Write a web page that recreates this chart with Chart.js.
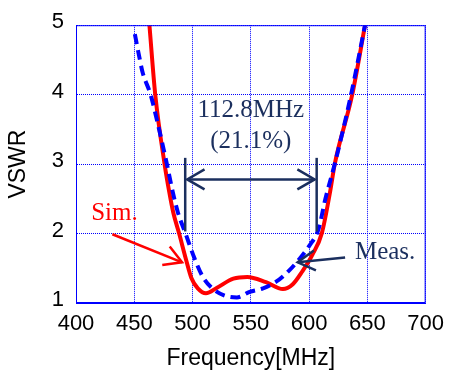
<!DOCTYPE html>
<html>
<head>
<meta charset="utf-8">
<script src="https://cdn.jsdelivr.net/npm/chart.js@4.4.1/dist/chart.umd.min.js"></script>
<style>
  html, body { margin: 0; padding: 0; background: #ffffff; }
  #wrap { width: 452px; height: 374px; }
</style>
</head>
<body>
<div id="wrap"><canvas id="vswr-chart" width="452" height="374"></canvas></div>
<script>
// --- Data ---
const simFreq = [463, 468, 476, 480, 483.5, 488.5, 494.5, 499, 504.5, 511.5, 521, 535, 547, 563, 577.5, 586, 594, 603, 611, 618, 622, 637, 648];
const simVswr = [5.0, 4.0, 3.0, 2.6, 2.3, 2.0, 1.62, 1.36, 1.21, 1.14, 1.22, 1.35, 1.375, 1.30, 1.20, 1.27, 1.45, 1.70, 2.01, 2.6, 3.0, 4.0, 5.0];

const measFreq = [450.5, 454, 457, 464, 469.5, 478, 483, 487.5, 494, 501.5, 509, 517, 527, 538, 549, 560.5, 572, 583, 591.5, 600, 608, 614, 622, 636, 648];
const measVswr = [4.87, 4.57, 4.33, 4.0, 3.63, 3.0, 2.6, 2.3, 2.0, 1.65, 1.37, 1.21, 1.11, 1.08, 1.16, 1.21, 1.31, 1.47, 1.63, 1.82, 2.06, 2.5, 3.0, 4.0, 5.0];

const xTicks = [400, 450, 500, 550, 600, 650, 700];
const yTicks = [1, 2, 3, 4, 5];

// band marker (MHz) and annotation texts
const bandEdges = [493.7, 606.5];
const bandLabel = ['112.8MHz', '(21.1%)'];
const simLabel = 'Sim.';
const measLabel = 'Meas.';

const NAVY = '#1b2f5e';
const GRID_BLUE = '#0000ff';

function toPoints(xs, ys) {
  return xs.map((x, i) => ({ x: x, y: ys[i] }));
}

function arrowHead(ctx, tipX, tipY, fromX, fromY, len) {
  const ang = Math.atan2(tipY - fromY, tipX - fromX);
  const spread = Math.PI / 6;
  ctx.beginPath();
  ctx.moveTo(tipX - len * Math.cos(ang - spread), tipY - len * Math.sin(ang - spread));
  ctx.lineTo(tipX, tipY);
  ctx.lineTo(tipX - len * Math.cos(ang + spread), tipY - len * Math.sin(ang + spread));
  ctx.stroke();
}

function arrow(ctx, x1, y1, x2, y2, len) {
  ctx.beginPath();
  ctx.moveTo(x1, y1);
  ctx.lineTo(x2, y2);
  ctx.stroke();
  arrowHead(ctx, x2, y2, x1, y1, len);
}

// frame + text/arrow annotations
const annotations = {
  id: 'annotations',
  afterDatasetsDraw(chart) {
    const { ctx, chartArea, scales } = chart;
    const xs = scales.x, ys = scales.y;
    const px = v => xs.getPixelForValue(v);
    const py = v => ys.getPixelForValue(v);

    ctx.save();
    ctx.strokeStyle = GRID_BLUE;
    ctx.lineWidth = 1;
    ctx.strokeRect(chartArea.left + 0.5, chartArea.top + 0.5, chartArea.width - 1, chartArea.height - 1);

    // bandwidth bracket
    ctx.strokeStyle = NAVY;
    ctx.lineWidth = 2.5;
    bandEdges.forEach(f => {
      ctx.beginPath();
      ctx.moveTo(px(f), py(3.09));
      ctx.lineTo(px(f), py(2.03));
      ctx.stroke();
    });
    const aY = py(2.78);
    ctx.beginPath();
    ctx.moveTo(px(bandEdges[0]) + 2, aY);
    ctx.lineTo(px(bandEdges[1]) - 2, aY);
    ctx.stroke();
    arrowHead(ctx, px(bandEdges[0]) + 2, aY, px(bandEdges[1]), aY, 20);
    arrowHead(ctx, px(bandEdges[1]) - 2, aY, px(bandEdges[0]), aY, 20);

    ctx.fillStyle = NAVY;
    ctx.font = "25px 'Liberation Serif', 'Times New Roman', serif";
    ctx.textAlign = 'center';
    ctx.textBaseline = 'alphabetic';
    ctx.fillText(bandLabel[0], px(550), py(3.68));
    ctx.fillText(bandLabel[1], px(550), py(3.23));

    // Sim. label + arrow
    ctx.fillStyle = '#ff0000';
    ctx.strokeStyle = '#ff0000';
    ctx.textAlign = 'left';
    ctx.fillText(simLabel, px(413), py(2.19));
    arrow(ctx, px(431.2), py(1.99), px(491), py(1.586), 20);

    // Meas. label + arrow
    ctx.fillStyle = NAVY;
    ctx.strokeStyle = NAVY;
    ctx.fillText(measLabel, px(639.3), py(1.64));
    arrow(ctx, px(630.9), py(1.656), px(590.2), py(1.586), 20);

    ctx.restore();
  }
};

const tickFont = { family: "'Liberation Sans', Arial, sans-serif", size: 22 };
const titleFont = { family: "'Liberation Sans', Arial, sans-serif", size: 23 };

new Chart(document.getElementById('vswr-chart').getContext('2d'), {
  type: 'line',
  data: {
    datasets: [
      {
        label: 'Meas.',
        data: toPoints(measFreq, measVswr),
        borderColor: '#0000ff',
        borderWidth: 4,
        borderDash: [10, 6],
        cubicInterpolationMode: 'monotone',
        pointRadius: 0,
        fill: false,
        order: 0
      },
      {
        label: 'Sim.',
        data: toPoints(simFreq, simVswr),
        borderColor: '#ff0000',
        borderWidth: 4,
        cubicInterpolationMode: 'monotone',
        pointRadius: 0,
        fill: false,
        order: 1
      }
    ]
  },
  options: {
    responsive: false,
    animation: false,
    layout: { padding: { top: 19, right: 20, left: 0, bottom: 0 } },
    plugins: { legend: { display: false }, tooltip: { enabled: false } },
    scales: {
      x: {
        type: 'linear',
        min: 400,
        max: 700,
        afterBuildTicks: scale => { scale.ticks = xTicks.map(v => ({ value: v })); },
        afterFit: scale => { scale.height = 71; },
        grid: { color: GRID_BLUE, lineWidth: 1, drawTicks: false },
        border: { display: true, color: GRID_BLUE, width: 1, dash: [1, 1] },
        ticks: { font: tickFont, color: '#000000', padding: 8, maxRotation: 0 },
        title: { display: true, text: 'Frequency[MHz]', font: titleFont, color: '#000000', padding: { top: 0, bottom: 2 } }
      },
      y: {
        type: 'linear',
        min: 1,
        max: 5,
        afterBuildTicks: scale => { scale.ticks = yTicks.map(v => ({ value: v })); },
        afterFit: scale => { scale.width = 76; },
        grid: { color: GRID_BLUE, lineWidth: 1, drawTicks: false },
        border: { display: true, color: GRID_BLUE, width: 1, dash: [1, 1] },
        ticks: { font: tickFont, color: '#000000', padding: 12, labelOffset: -3 },
        title: { display: true, text: 'VSWR', font: titleFont, color: '#000000', padding: { top: 5, bottom: 0 } }
      }
    }
  },
  plugins: [annotations]
});
</script>
</body>
</html>
